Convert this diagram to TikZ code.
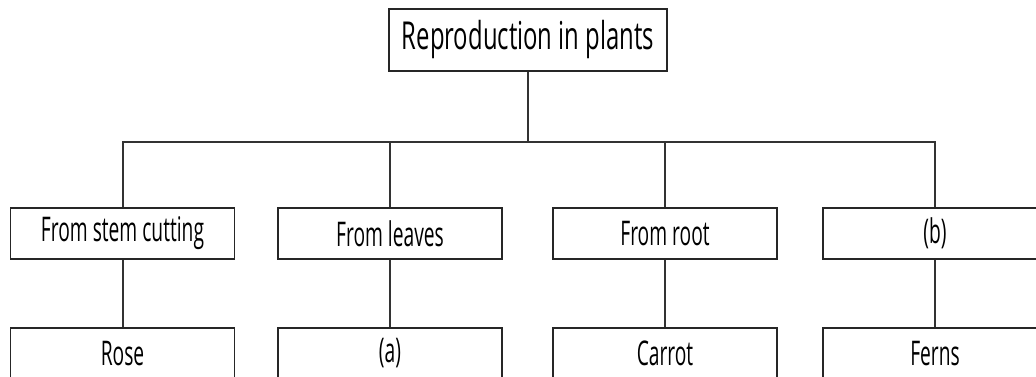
\documentclass[tikz,border=0pt]{standalone}
\usepackage{fontspec}
\newfontfamily\midfont{Open Sans}[FakeStretch=0.565]
\newfontfamily\topfont{Open Sans}[FakeStretch=0.62]
\begin{document}
\begin{tikzpicture}[x=1pt,y=-1pt,
  box/.style={draw=black!85,line width=1.3pt,fill=white,minimum width=224pt,minimum height=51pt,inner sep=0pt,font=\midfont\fontsize{34}{38}\selectfont,text=black},
  topbox/.style={box,minimum width=278pt,minimum height=62pt,font=\topfont\fontsize{38.5}{42}\selectfont},
  link/.style={draw=black!80,line width=2pt}]
\useasboundingbox (0,0) rectangle (1036,377);
\node[topbox] (top) at (528,40) {Reproduction in plants};
\coordinate (bus) at (528,142);
\node[box] (m1) at (122.5,233.5) {From stem cutting};
\node[box] (m2) at (390,233.5) {From leaves};
\node[box] (m3) at (665,233.5) {From root};
\node[box] (m4) at (935,233.5) {(b)};
\node[box] (b1) at (122.5,353.5) {Rose};
\node[box] (b2) at (390,353.5) {(a)};
\node[box] (b3) at (665,353.5) {Carrot};
\node[box] (b4) at (935,353.5) {Ferns};
\draw[link] (top.south) -- (bus);
\draw[link] (m1.north) |- (bus) -| (m4.north);
\draw[link] (m2.north) -- (m2.north |- bus);
\draw[link] (m3.north) -- (m3.north |- bus);
\draw[link] (m1.south) -- (b1.north);
\draw[link] (m2.south) -- (b2.north);
\draw[link] (m3.south) -- (b3.north);
\draw[link] (m4.south) -- (b4.north);
\end{tikzpicture}
\end{document}
